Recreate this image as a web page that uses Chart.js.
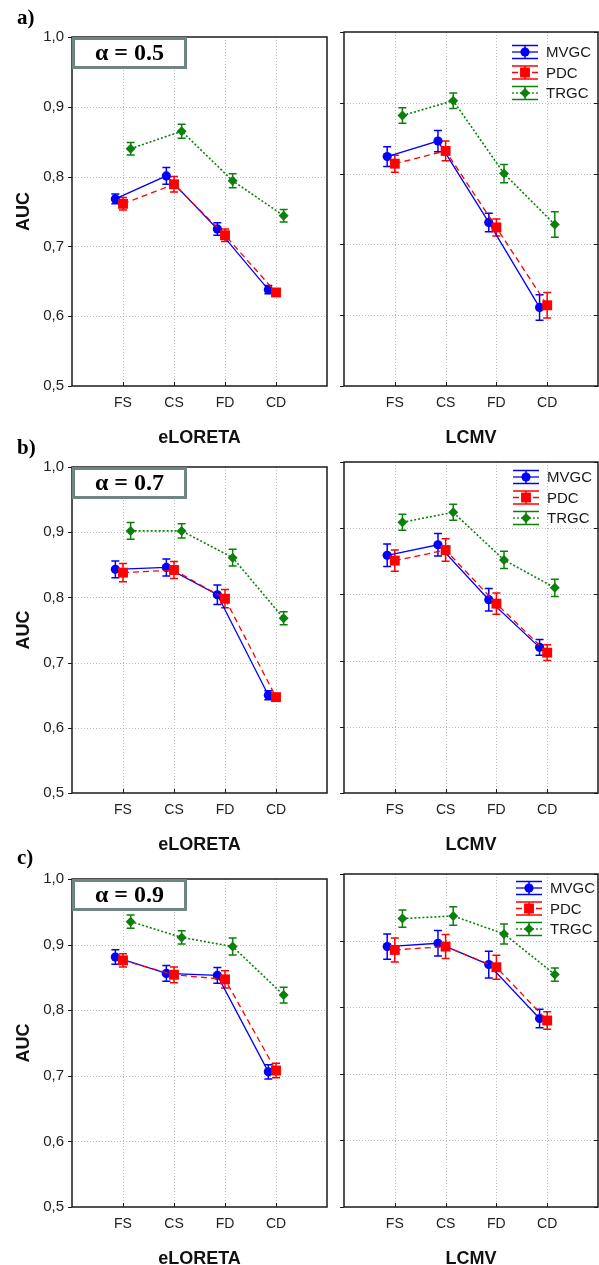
<!DOCTYPE html>
<html><head><meta charset="utf-8">
<script src="https://cdn.jsdelivr.net/npm/chart.js@4.4.1/dist/chart.umd.min.js"></script>
<style>
html,body{margin:0;padding:0;background:#fff;}
#wrap{position:relative;width:599px;height:1265px;overflow:hidden;background:#fff;}
canvas{position:absolute;}
.plabel{position:absolute;font:bold 21px "Liberation Serif","Times New Roman",serif;color:#000;line-height:24px;}
</style></head>
<body><div id="wrap"></div>
<script>
// ---------- data ----------
const categories = ['FS', 'CS', 'FD', 'CD'];
const seriesNames = ['MVGC', 'PDC', 'TRGC'];
const yTickValues = [0.5, 0.6, 0.7, 0.8, 0.9, 1.0];
const panelLabels = ['a)', 'b)', 'c)'];
const alphaLabels = ['α = 0.5', 'α = 0.7', 'α = 0.9'];
const methodTitles = ['eLORETA', 'LCMV'];

// a) alpha = 0.5
const a_eLORETA_MVGC = [0.768, 0.801, 0.725, 0.638];
const a_eLORETA_PDC  = [0.761, 0.789, 0.716, 0.634];
const a_eLORETA_TRGC = [0.840, 0.865, 0.794, 0.744];
const a_eLORETA_MVGC_err = [0.007, 0.012, 0.009, 0.006];
const a_eLORETA_PDC_err  = [0.009, 0.011, 0.009, 0.004];
const a_eLORETA_TRGC_err = [0.009, 0.010, 0.010, 0.009];
const a_LCMV_MVGC = [0.824, 0.846, 0.731, 0.611];
const a_LCMV_PDC  = [0.814, 0.832, 0.724, 0.614];
const a_LCMV_TRGC = [0.882, 0.903, 0.800, 0.728];
const a_LCMV_MVGC_err = [0.014, 0.015, 0.013, 0.018];
const a_LCMV_PDC_err  = [0.012, 0.014, 0.012, 0.018];
const a_LCMV_TRGC_err = [0.011, 0.011, 0.013, 0.018];

// b) alpha = 0.7
const b_eLORETA_MVGC = [0.843, 0.846, 0.804, 0.650];
const b_eLORETA_PDC  = [0.838, 0.842, 0.798, 0.647];
const b_eLORETA_TRGC = [0.902, 0.902, 0.861, 0.768];
const b_eLORETA_MVGC_err = [0.013, 0.013, 0.015, 0.007];
const b_eLORETA_PDC_err  = [0.014, 0.013, 0.014, 0.005];
const b_eLORETA_TRGC_err = [0.013, 0.011, 0.013, 0.010];
const b_LCMV_MVGC = [0.859, 0.875, 0.792, 0.720];
const b_LCMV_PDC  = [0.851, 0.867, 0.786, 0.712];
const b_LCMV_TRGC = [0.909, 0.924, 0.852, 0.810];
const b_LCMV_MVGC_err = [0.017, 0.017, 0.017, 0.012];
const b_LCMV_PDC_err  = [0.016, 0.017, 0.016, 0.012];
const b_LCMV_TRGC_err = [0.012, 0.012, 0.013, 0.013];

// c) alpha = 0.9
const c_eLORETA_MVGC = [0.881, 0.856, 0.853, 0.706];
const c_eLORETA_PDC  = [0.876, 0.854, 0.847, 0.708];
const c_eLORETA_TRGC = [0.935, 0.911, 0.897, 0.823];
const c_eLORETA_MVGC_err = [0.011, 0.012, 0.012, 0.011];
const c_eLORETA_PDC_err  = [0.010, 0.012, 0.013, 0.011];
const c_eLORETA_TRGC_err = [0.010, 0.010, 0.013, 0.012];
const c_LCMV_MVGC = [0.891, 0.896, 0.864, 0.783];
const c_LCMV_PDC  = [0.886, 0.891, 0.860, 0.780];
const c_LCMV_TRGC = [0.933, 0.937, 0.910, 0.849];
const c_LCMV_MVGC_err = [0.019, 0.019, 0.020, 0.014];
const c_LCMV_PDC_err  = [0.018, 0.018, 0.018, 0.013];
const c_LCMV_TRGC_err = [0.013, 0.014, 0.015, 0.010];

const panelData = [
  [ {vals:[a_eLORETA_MVGC, a_eLORETA_PDC, a_eLORETA_TRGC], errs:[a_eLORETA_MVGC_err, a_eLORETA_PDC_err, a_eLORETA_TRGC_err]},
    {vals:[a_LCMV_MVGC, a_LCMV_PDC, a_LCMV_TRGC], errs:[a_LCMV_MVGC_err, a_LCMV_PDC_err, a_LCMV_TRGC_err]} ],
  [ {vals:[b_eLORETA_MVGC, b_eLORETA_PDC, b_eLORETA_TRGC], errs:[b_eLORETA_MVGC_err, b_eLORETA_PDC_err, b_eLORETA_TRGC_err]},
    {vals:[b_LCMV_MVGC, b_LCMV_PDC, b_LCMV_TRGC], errs:[b_LCMV_MVGC_err, b_LCMV_PDC_err, b_LCMV_TRGC_err]} ],
  [ {vals:[c_eLORETA_MVGC, c_eLORETA_PDC, c_eLORETA_TRGC], errs:[c_eLORETA_MVGC_err, c_eLORETA_PDC_err, c_eLORETA_TRGC_err]},
    {vals:[c_LCMV_MVGC, c_LCMV_PDC, c_LCMV_TRGC], errs:[c_LCMV_MVGC_err, c_LCMV_PDC_err, c_LCMV_TRGC_err]} ]
];

// ---------- styles / layout ----------
const seriesColors = ['#0000ff', '#ff0000', '#0b800b'];
const seriesDash = [[], [6, 4], [2, 2]];
const seriesPoint = ['circle', 'rect', 'rectRot'];
const seriesRadius = [4.6, 7, 5];
const seriesOffset = [-0.15, 0, 0.15];
const seriesOrder = [2, 1, 3];

const rowLayout = [
  {top: 32,  bottom: 386,  legendDx: 168, legendDy: 20, labelTop: 5},
  {top: 462, bottom: 793,  legendDx: 169, legendDy: 15, labelTop: 435},
  {top: 874, bottom: 1207, legendDx: 172, legendDy: 14, labelTop: 845}
];
const colLayout = [
  {canvasLeft: 0,   canvasWidth: 335, padLeft: 0, padRight: 8},
  {canvasLeft: 336, canvasWidth: 263, padLeft: 8, padRight: 1}
];
const TOPPAD = 12, XAXIS_H = 65, YAXIS_W = 72;
const FONT = '"Liberation Sans", Arial, sans-serif';
const SERIF = '"Liberation Serif", "Times New Roman", serif';

function drawMarker(ctx, style, x, y, r, color) {
  ctx.fillStyle = color;
  ctx.beginPath();
  if (style === 'circle') { ctx.arc(x, y, r, 0, Math.PI * 2); }
  else if (style === 'rect') { const s = r * Math.SQRT1_2; ctx.rect(x - s, y - s, 2 * s, 2 * s); }
  else { ctx.moveTo(x, y - r); ctx.lineTo(x + r, y); ctx.lineTo(x, y + r); ctx.lineTo(x - r, y); ctx.closePath(); }
  ctx.fill();
}

const decorPlugin = {
  id: 'decor',
  beforeDatasetsDraw(chart) {
    const {ctx, chartArea: a, scales: {x, y}} = chart;
    ctx.save();
    // dotted grid
    ctx.strokeStyle = '#b9b9b9'; ctx.lineWidth = 1; ctx.setLineDash([1, 2]);
    yTickValues.slice(1, -1).forEach(v => {
      const py = Math.round(y.getPixelForValue(v)) + 0.5;
      ctx.beginPath(); ctx.moveTo(a.left, py); ctx.lineTo(a.right, py); ctx.stroke();
    });
    categories.forEach((c, i) => {
      const px = Math.round(x.getPixelForValue(i + 1)) + 0.5;
      ctx.beginPath(); ctx.moveTo(px, a.top); ctx.lineTo(px, a.bottom); ctx.stroke();
    });
    ctx.setLineDash([]);
    // error bars
    chart.data.datasets.forEach(ds => {
      ctx.strokeStyle = ds.borderColor; ctx.lineWidth = 1.5;
      ds.data.forEach((pt, j) => {
        const px = x.getPixelForValue(pt.x);
        const yt = y.getPixelForValue(pt.y + ds.errors[j]);
        const yb = y.getPixelForValue(pt.y - ds.errors[j]);
        ctx.beginPath();
        ctx.moveTo(px, yt); ctx.lineTo(px, yb);
        ctx.moveTo(px - 4, yt); ctx.lineTo(px + 4, yt);
        ctx.moveTo(px - 4, yb); ctx.lineTo(px + 4, yb);
        ctx.stroke();
      });
    });
    ctx.restore();
  },
  afterDraw(chart) {
    const {ctx, chartArea: a, scales: {x, y}} = chart;
    const o = chart.options.plugins.decor;
    ctx.save();
    // frame
    ctx.strokeStyle = '#1a1a1a'; ctx.lineWidth = 1.5;
    ctx.strokeRect(a.left, a.top, a.right - a.left, a.bottom - a.top);
    // tick marks
    ctx.lineWidth = 1;
    yTickValues.forEach(v => {
      const py = Math.round(y.getPixelForValue(v)) + 0.5;
      ctx.beginPath(); ctx.moveTo(a.left - 4, py); ctx.lineTo(a.left, py); ctx.stroke();
      if (o.col === 1) { ctx.beginPath(); ctx.moveTo(a.right - 4, py); ctx.lineTo(a.right, py); ctx.stroke(); }
    });
    categories.forEach((c, i) => {
      const px = Math.round(x.getPixelForValue(i + 1)) + 0.5;
      ctx.beginPath(); ctx.moveTo(px, a.bottom); ctx.lineTo(px, a.bottom - 4); ctx.stroke();
    });
    if (o.col === 0) {
      // alpha box
      const bw = 115, bh = 32;
      ctx.fillStyle = '#ffffff';
      ctx.fillRect(a.left, a.top, bw, bh);
      ctx.strokeStyle = '#6e8583'; ctx.lineWidth = 3;
      ctx.strokeRect(a.left + 1.5, a.top + 1.5, bw - 3, bh - 3);
      ctx.fillStyle = '#000';
      ctx.font = 'bold 24px ' + SERIF;
      ctx.textAlign = 'center'; ctx.textBaseline = 'middle';
      ctx.fillText(o.alpha, a.left + bw / 2, a.top + bh / 2 + 1);
    } else {
      // legend
      const lx = a.left + o.legendDx, ly0 = a.top + o.legendDy;
      seriesNames.forEach((name, i) => {
        const ly = ly0 + i * 20.5, col = seriesColors[i];
        ctx.strokeStyle = col; ctx.lineWidth = 1.5;
        ctx.beginPath();
        ctx.moveTo(lx, ly - 6.5); ctx.lineTo(lx + 26, ly - 6.5);
        ctx.moveTo(lx, ly + 6.5); ctx.lineTo(lx + 26, ly + 6.5);
        ctx.moveTo(lx + 13, ly - 6.5); ctx.lineTo(lx + 13, ly + 6.5);
        ctx.stroke();
        ctx.setLineDash(seriesDash[i]); ctx.lineWidth = 1.3;
        ctx.beginPath(); ctx.moveTo(lx, ly); ctx.lineTo(lx + 26, ly); ctx.stroke();
        ctx.setLineDash([]);
        drawMarker(ctx, seriesPoint[i], lx + 13, ly, seriesRadius[i], col);
        ctx.fillStyle = '#1a1a1a';
        ctx.font = '15px ' + FONT;
        ctx.textAlign = 'left'; ctx.textBaseline = 'middle';
        ctx.fillText(name, lx + 34, ly + 1);
      });
    }
    ctx.restore();
  }
};

const wrap = document.getElementById('wrap');

rowLayout.forEach((row, r) => {
  colLayout.forEach((colL, c) => {
    const plotH = row.bottom - row.top;
    const cv = document.createElement('canvas');
    const h = plotH + TOPPAD + XAXIS_H;
    cv.width = colL.canvasWidth; cv.height = h;
    cv.style.left = colL.canvasLeft + 'px';
    cv.style.top = (row.top - TOPPAD) + 'px';
    cv.style.width = colL.canvasWidth + 'px'; cv.style.height = h + 'px';
    wrap.appendChild(cv);

    const pd = panelData[r][c];
    const datasets = seriesNames.map((name, i) => ({
      label: name,
      data: pd.vals[i].map((v, j) => ({x: j + 1 + seriesOffset[i], y: v})),
      errors: pd.errs[i],
      borderColor: seriesColors[i],
      backgroundColor: seriesColors[i],
      borderWidth: i === 2 ? 1.6 : 1.3,
      borderDash: seriesDash[i],
      pointStyle: seriesPoint[i],
      pointRadius: seriesRadius[i],
      pointBackgroundColor: seriesColors[i],
      pointBorderColor: seriesColors[i],
      pointBorderWidth: 0,
      tension: 0, fill: false, showLine: true,
      order: seriesOrder[i]
    }));

    new Chart(cv, {
      type: 'line',
      data: {datasets},
      plugins: [decorPlugin],
      options: {
        responsive: false, animation: false, devicePixelRatio: 1,
        events: [],
        layout: {autoPadding: false, padding: {top: TOPPAD, bottom: 0, left: colL.padLeft, right: colL.padRight}},
        plugins: {
          legend: {display: false}, tooltip: {enabled: false}, title: {display: false},
          decor: {col: c, alpha: alphaLabels[r], legendDx: row.legendDx, legendDy: row.legendDy}
        },
        scales: {
          x: {
            type: 'linear', min: 0, max: 5,
            afterBuildTicks: s => { s.ticks = categories.map((cat, i) => ({value: i + 1})); },
            afterFit: s => { s.height = XAXIS_H; s.paddingLeft = 0; s.paddingRight = 0; },
            grid: {display: false, drawTicks: false},
            border: {display: false},
            ticks: {
              autoSkip: false, maxRotation: 0, padding: 9, color: '#222',
              font: {family: FONT, size: 14},
              callback: v => categories[Math.round(v) - 1] || ''
            },
            title: {display: true, text: methodTitles[c], color: '#111',
                    font: {family: FONT, size: 18, weight: 'bold'}, padding: {top: 0, bottom: 2}}
          },
          y: {
            type: 'linear', min: 0.5, max: 1.0, display: c === 0,
            afterBuildTicks: s => { s.ticks = yTickValues.map(v => ({value: v})); },
            afterFit: s => { s.width = (c === 0) ? YAXIS_W : 0; },
            grid: {display: false, drawTicks: false},
            border: {display: false},
            ticks: {
              padding: 8, color: '#222', font: {family: FONT, size: 15},
              callback: v => v.toFixed(1).replace('.', ',')
            },
            title: {display: c === 0, text: 'AUC', color: '#111',
                    font: {family: FONT, size: 18, weight: 'bold'}, padding: {top: 13, bottom: 0}}
          }
        }
      }
    });
  });
  const lab = document.createElement('div');
  lab.className = 'plabel';
  lab.textContent = panelLabels[r];
  lab.style.left = '17px';
  lab.style.top = row.labelTop + 'px';
  wrap.appendChild(lab);
});
</script>
</body></html>
